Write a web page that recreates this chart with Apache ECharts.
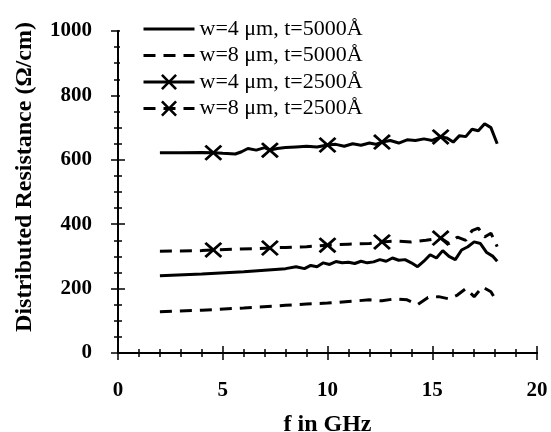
<!DOCTYPE html>
<html>
<head>
<meta charset="utf-8">
<script src="https://cdn.jsdelivr.net/npm/echarts@6/dist/echarts.min.js"></script>
<style>html,body{margin:0;padding:0;background:#fff}#c{width:551px;height:432px}</style>
</head>
<body>
<div id="c"></div>
<script>
const seriesNames = ['w=4 \u03bcm, t=5000\u00c5', 'w=8 \u03bcm, t=5000\u00c5', 'w=4 \u03bcm, t=2500\u00c5', 'w=8 \u03bcm, t=2500\u00c5'];
const xTicks = [0, 5, 10, 15, 20];
const yTicks = [0, 200, 400, 600, 800, 1000];

const fA = [2, 4, 6, 7, 8, 8.5, 8.9, 9.2, 9.5, 9.8, 10.1, 10.4, 10.7, 11.0, 11.3, 11.6, 11.9, 12.2, 12.5, 12.8, 13.1, 13.4, 13.7, 14.0, 14.3, 14.6, 14.9, 15.2, 15.5, 15.8, 16.1, 16.4, 16.7, 17.0, 17.3, 17.6, 17.9, 18.1];
const vA = [240, 245, 252, 257, 262, 268, 262, 272, 268, 280, 275, 284, 280, 282, 278, 285, 280, 283, 290, 285, 295, 288, 290, 280, 268, 285, 305, 295, 318, 300, 290, 320, 330, 345, 340, 312, 300, 285];

const fB = [2, 4, 6, 8, 9, 10, 11, 12, 12.6, 13.2, 13.8, 14.3, 14.8, 15.3, 15.8, 16.2, 16.6, 17.0, 17.4, 17.8, 18.1];
const vB = [128, 133, 140, 148, 152, 155, 160, 165, 162, 168, 165, 150, 172, 175, 168, 180, 200, 175, 205, 190, 158];

const fC = [2, 3, 4, 4.55, 5, 5.6, 5.9, 6.2, 6.6, 7.0, 7.25, 7.6, 8.0, 8.5, 9.0, 9.5, 10.0, 10.4, 10.8, 11.2, 11.6, 12.0, 12.3, 12.6, 13.0, 13.4, 13.8, 14.2, 14.6, 15.0, 15.4, 15.7, 16.0, 16.3, 16.6, 16.9, 17.2, 17.5, 17.8, 18.1];
const vC = [622, 622, 623, 622, 620, 618, 625, 635, 630, 638, 630, 635, 638, 640, 642, 640, 646, 648, 642, 650, 645, 652, 648, 655, 660, 652, 662, 660, 665, 660, 671, 668, 655, 675, 672, 695, 690, 712, 700, 650];

const fD = [2, 3, 4, 4.55, 5.5, 6.5, 7.25, 8, 9, 10.0, 11, 12, 12.6, 13.3, 14, 14.7, 15.4, 15.8, 16.2, 16.6, 16.9, 17.2, 17.5, 17.8, 18.1];
const vD = [316, 317, 318, 320, 322, 324, 326, 328, 330, 335, 338, 340, 345, 348, 345, 350, 357, 340, 360, 350, 380, 388, 360, 372, 330];

const markerFreqs = [4.55, 7.25, 10, 12.6, 15.4];

const XPATH = 'path://M0,2.3L2.3,0L10,7.7L17.7,0L20,2.3L12.3,10L20,17.7L17.7,20L10,12.3L2.3,20L0,17.7L7.7,10Z';

function build(fs, vs, marked) {
  return fs.map((f, i) => {
    const item = { value: [f, vs[i]] };
    if (!marked || markerFreqs.indexOf(f) < 0) item.symbol = 'none';
    return item;
  });
}

const serif = '"Liberation Serif", "Times New Roman", serif';
const dash = [12, 8];

function mkSeries(name, fs, vs, dashed, marked) {
  return {
    name: name,
    type: 'line',
    data: build(fs, vs, marked),
    symbol: marked ? XPATH : 'none',
    symbolSize: [18, 16],
    showSymbol: true,
    showAllSymbol: true,
    itemStyle: { color: '#000' },
    lineStyle: { color: '#000', width: 3, type: dashed ? dash : 'solid' },
    emphasis: { disabled: true },
    animation: false,
    z: 2
  };
}

const axisLine = { show: true, lineStyle: { color: '#000', width: 2 } };
const hidden = { color: 'rgba(0,0,0,0)', borderWidth: 0, opacity: 0 };
const solidLeg = { color: '#000', width: 3, type: 'solid' };
const dashLeg = { color: '#000', width: 3, type: dash };

const chart = echarts.init(document.getElementById('c'));
chart.setOption({
  backgroundColor: '#fff',
  animation: false,
  grid: { left: 118, right: 14, top: 31, bottom: 79, containLabel: false, outerBoundsMode: 'none' },
  legend: {
    orient: 'vertical',
    left: 120,
    top: 16,
    padding: [2, 22, 4, 22],
    itemWidth: 51,
    itemHeight: 20,
    itemGap: 4.5,
    backgroundColor: '#fff',
    selectedMode: false,
    textStyle: { fontFamily: serif, fontSize: 22, color: '#000' },
    data: [
      { name: seriesNames[0], itemStyle: hidden, lineStyle: solidLeg },
      { name: seriesNames[1], itemStyle: hidden, lineStyle: dashLeg },
      { name: seriesNames[2], lineStyle: solidLeg },
      { name: seriesNames[3], lineStyle: dashLeg }
    ],
    z: 10
  },
  xAxis: [{
    type: 'value', min: 0, max: 20, interval: 5,
    name: 'f in GHz', nameLocation: 'middle', nameGap: 60,
    nameTextStyle: { fontFamily: serif, fontSize: 24, fontWeight: 'bold', color: '#000' },
    axisLine: axisLine,
    axisTick: { show: true, inside: true, length: 7, lineStyle: { color: '#000', width: 1.5 } },
    minorTick: { show: true, splitNumber: 5, length: 4, lineStyle: { color: '#000', width: 1.5 } },
    splitLine: { show: false },
    axisLabel: { margin: 27, fontFamily: serif, fontSize: 21, fontWeight: 'bold', color: '#000',
      formatter: v => xTicks.indexOf(v) >= 0 ? String(v) : '' }
  }, {
    type: 'value', min: 0, max: 20, interval: 5, position: 'top',
    axisLine: axisLine,
    axisTick: { show: true, inside: true, length: 7, lineStyle: { color: '#000', width: 1.5 } },
    minorTick: { show: true, splitNumber: 5, length: 4, lineStyle: { color: '#000', width: 1.5 } },
    splitLine: { show: false }, axisLabel: { show: false }
  }],
  yAxis: [{
    type: 'value', min: 0, max: 1000, interval: 200,
    name: 'Distributed Resistance (\u03a9/cm)', nameLocation: 'middle', nameGap: 81,
    nameTextStyle: { fontFamily: serif, fontSize: 24, fontWeight: 'bold', color: '#000', padding: [0, 0, 0, 30] },
    axisLine: axisLine,
    axisTick: { show: true, inside: true, length: 7, lineStyle: { color: '#000', width: 1.5 } },
    minorTick: { show: true, splitNumber: 4, length: 4, lineStyle: { color: '#000', width: 1.5 } },
    splitLine: { show: false },
    axisLabel: { margin: 26, fontFamily: serif, fontSize: 21, fontWeight: 'bold', color: '#000',
      formatter: v => yTicks.indexOf(v) >= 0 ? String(v) : '' }
  }, {
    type: 'value', min: 0, max: 1000, interval: 200, position: 'right',
    axisLine: axisLine,
    axisTick: { show: true, inside: true, length: 7, lineStyle: { color: '#000', width: 1.5 } },
    minorTick: { show: true, splitNumber: 4, length: 4, lineStyle: { color: '#000', width: 1.5 } },
    splitLine: { show: false }, axisLabel: { show: false }
  }],
  series: [
    mkSeries(seriesNames[0], fA, vA, false, false),
    mkSeries(seriesNames[1], fB, vB, true, false),
    mkSeries(seriesNames[2], fC, vC, false, true),
    mkSeries(seriesNames[3], fD, vD, true, true)
  ]
});
</script>
</body>
</html>
